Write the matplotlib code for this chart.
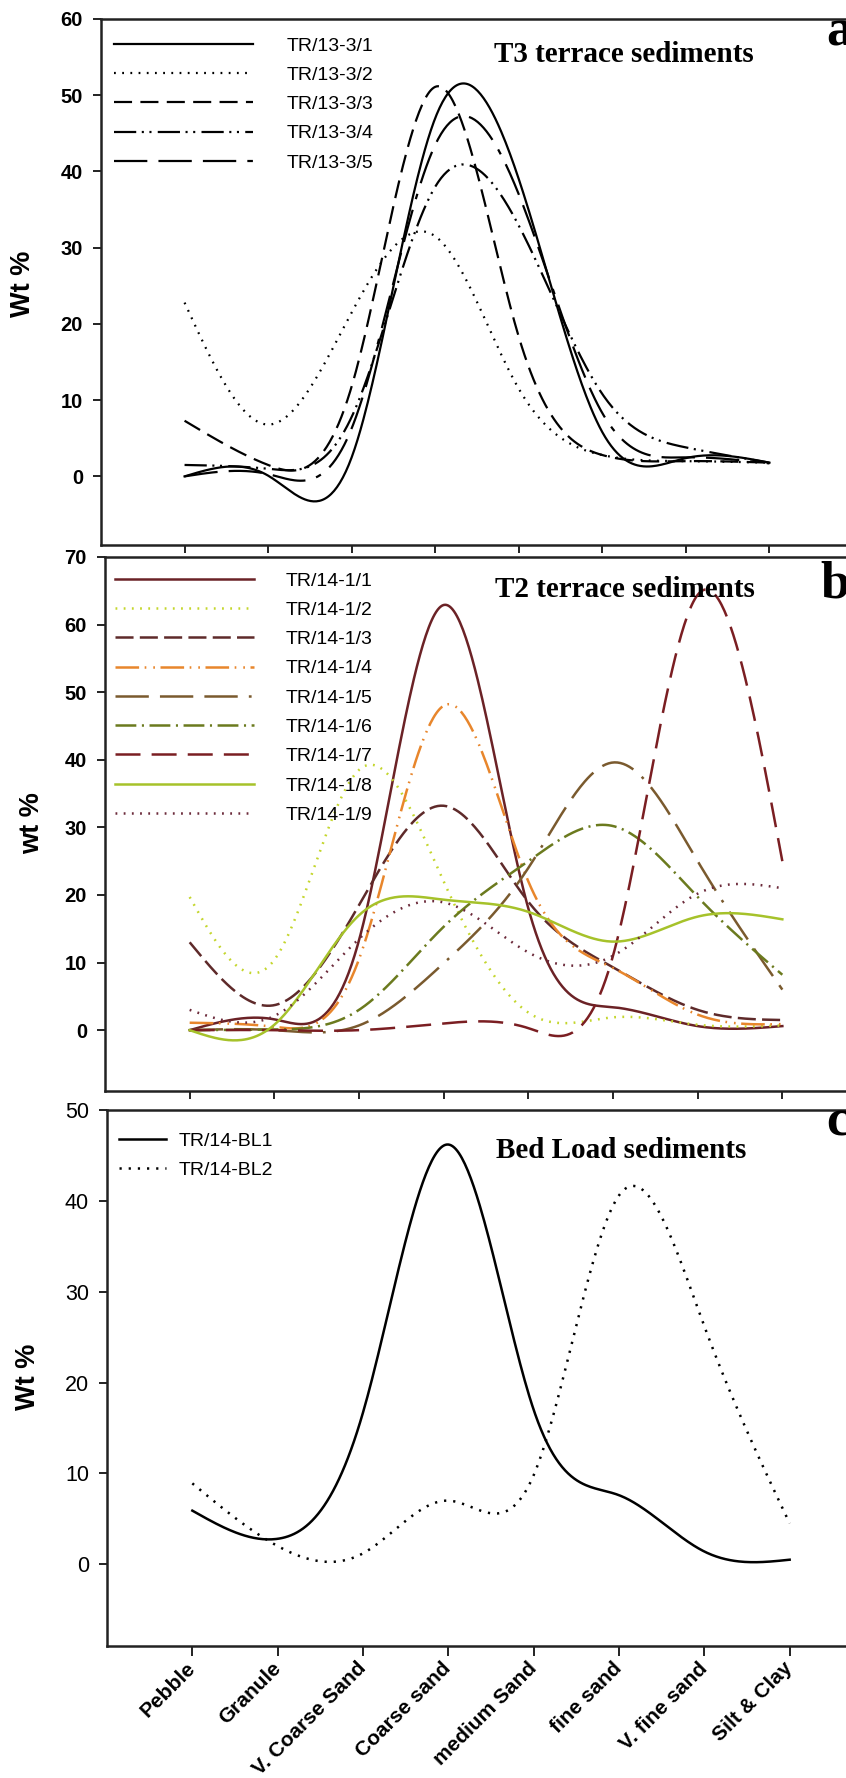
import numpy as np
import matplotlib
matplotlib.use("Agg")
import matplotlib.pyplot as plt

# grain size fractions (x axis of all three panels)
categories = ["Pebble", "Granule", "V. Coarse Sand", "Coarse sand",
              "medium Sand", "fine sand", "V. fine sand", "Silt & Clay"]

# panel a - T3 terrace sediments (wt %)
a_labels = ["TR/13-3/1", "TR/13-3/2", "TR/13-3/3", "TR/13-3/4", "TR/13-3/5"]
a_tr1 = [0, 0.1, 2.5, 47, 39, 5.8, 2.4, 1.8]
a_tr2 = [22.8, 6.8, 21.5, 31.5, 11.5, 2.8, 2.0, 1.8]
a_tr3 = [7.3, 1.5, 11.8, 51.1, 18.3, 2.8, 2.0, 1.8]
a_tr4 = [1.5, 1.0, 7.8, 38.0, 32.9, 10.8, 3.8, 1.8]
a_tr5 = [0, 0.3, 6.3, 43.5, 37.0, 8.3, 2.5, 1.7]

# panel b - T2 terrace sediments (wt %)
b_labels = ["TR/14-1/1", "TR/14-1/2", "TR/14-1/3", "TR/14-1/4", "TR/14-1/5",
            "TR/14-1/6", "TR/14-1/7", "TR/14-1/8", "TR/14-1/9"]
b_tr1 = [0, 1.6, 13.3, 62.9, 18, 3.4, 0.6, 0.6]
b_tr2 = [19.7, 10.4, 38.5, 22, 2.6, 1.9, 0.8, 0.7]
b_tr3 = [13, 3.7, 18.5, 33.2, 19, 9.3, 3.0, 1.5]
b_tr4 = [1.1, 0.5, 10.5, 48, 22, 9.2, 2.3, 0.9]
b_tr5 = [0, 0, 0.7, 9.9, 24, 39.6, 25, 6]
b_tr6 = [0, 0.1, 3.0, 15.3, 25, 30.2, 19.7, 8.2]
b_tr7 = [0, 0, 0, 1.0, 0.3, 11, 64.4, 25]
b_tr8 = [0, 0.8, 17, 19.3, 17.5, 13.1, 16.8, 16.4]
b_tr9 = [3.0, 2.1, 13.5, 18.9, 11.5, 11, 20.2, 21]

# panel c - bed load sediments (wt %)
c_labels = ["TR/14-BL1", "TR/14-BL2"]
c_bl1 = [5.9, 2.8, 16.7, 46.2, 17, 7.6, 1.4, 0.5]
c_bl2 = [8.9, 2.0, 1.2, 7.0, 9.8, 40.6, 26.2, 4.5]

plt.rcParams["font.family"] = ["Liberation Sans", "DejaVu Sans"]
plt.rcParams["lines.scale_dashes"] = False

W, H = 846, 1778
SERIF = "Liberation Serif"


def smooth(vals, n=400):
    # natural cubic spline through the points, like the smoothed curves of the original
    y = np.asarray(vals, dtype=float)
    k = len(y)
    A = np.zeros((k - 2, k - 2))
    r = np.zeros(k - 2)
    for i in range(1, k - 1):
        A[i - 1, i - 1] = 4
        if i > 1:
            A[i - 1, i - 2] = 1
        if i < k - 2:
            A[i - 1, i] = 1
        r[i - 1] = 6 * (y[i + 1] - 2 * y[i] + y[i - 1])
    M = np.zeros(k)
    M[1:-1] = np.linalg.solve(A, r)
    t = np.linspace(0, k - 1, n)
    i = np.minimum(np.floor(t).astype(int), k - 2)
    u = t - i
    v = 1 - u
    s = (M[i] * v**3 + M[i + 1] * u**3) / 6 + (y[i] - M[i] / 6) * v + (y[i + 1] - M[i + 1] / 6) * u
    return t, s


def make_axes(fig, left, right, top, bottom):
    ax = fig.add_axes([left / W, 1 - bottom / H, (right - left) / W, (bottom - top) / H])
    for sp in ax.spines.values():
        sp.set_linewidth(1.8)
        sp.set_color("#222222")
    ax.tick_params(direction="out", length=6, width=1.4, color="#222222")
    ax.set_xlim(-1, 8)
    ax.set_xticks(range(len(categories)))
    return ax


def fig_text(x, y, s, **kw):
    fig.text(x / W, 1 - y / H, s, **kw)


fig = plt.figure(figsize=(W / 100, H / 100), dpi=100)

# ---- panel a
ax1 = make_axes(fig, 101, 853, 19, 545)
styles_a = ["-", (0, (1.3, 4.6)), (0, (13, 6)),
            (0, (16, 4, 1.5, 4, 1.5, 4.5)), (0, (24, 8, 24, 8, 24, 8, 4, 8))]
for vals, lab, ls in zip([a_tr1, a_tr2, a_tr3, a_tr4, a_tr5], a_labels, styles_a):
    x, y = smooth(vals)
    ax1.plot(x, y, color="black", lw=1.6, ls=ls, label=lab)
ax1.set_ylim(-9, 60)
ax1.set_yticks(range(0, 61, 10))
ax1.tick_params(labelbottom=False)
for t in ax1.get_yticklabels():
    t.set_fontweight("bold")
    t.set_fontsize(14.5)
ax1.tick_params(axis="y", pad=7)
ax1.legend(loc="upper left", bbox_to_anchor=(114 / W, 1 - 37 / H), bbox_transform=fig.transFigure,
           frameon=False, fontsize=14, handlelength=7.15, handletextpad=1.75, labelspacing=0.6,
           borderpad=0, borderaxespad=0)

# ---- panel b
ax2 = make_axes(fig, 105, 867, 557, 1091)
colors_b = ["#6b2226", "#c4d62c", "#5e2a2a", "#e8862c", "#7a5a2e",
            "#6b7a1e", "#7a1e22", "#a6c22a", "#6b2a3a"]
styles_b = ["-", (0, (1.3, 4.6)), (0, (13, 4.5)), (0, (17, 4, 1.2, 5, 1.2, 4)),
            (0, (24, 8, 24, 8, 24, 8, 2, 8)), (0, (15, 4, 1.5, 4)), (0, (18, 8)),
            "-", (0, (1.3, 4.6))]
b_data = [b_tr1, b_tr2, b_tr3, b_tr4, b_tr5, b_tr6, b_tr7, b_tr8, b_tr9]
for vals, lab, col, ls in zip(b_data, b_labels, colors_b, styles_b):
    x, y = smooth(vals)
    ax2.plot(x, y, color=col, lw=1.8, ls=ls, label=lab)
ax2.set_ylim(-9, 70)
ax2.set_yticks(range(0, 71, 10))
ax2.tick_params(labelbottom=False)
for t in ax2.get_yticklabels():
    t.set_fontweight("bold")
    t.set_fontsize(14.5)
ax2.tick_params(axis="y", pad=7)
ax2.legend(loc="upper left", bbox_to_anchor=(115 / W, 1 - 572 / H), bbox_transform=fig.transFigure,
           frameon=False, fontsize=14, handlelength=7.15, handletextpad=1.65, labelspacing=0.6,
           borderpad=0, borderaxespad=0)

# ---- panel c
ax3 = make_axes(fig, 107, 875, 1110, 1646)
for vals, lab, ls in zip([c_bl1, c_bl2], c_labels, ["-", (0, (1.6, 5))]):
    x, y = smooth(vals)
    ax3.plot(x, y, color="black", lw=1.8, ls=ls, label=lab)
ax3.set_ylim(-9, 50)
ax3.set_yticks(range(0, 51, 10))
ax3.tick_params(axis="y", labelsize=15.5, pad=7)
ax3.tick_params(axis="x", length=7)
ax3.set_xticklabels(categories, rotation=45, ha="right", va="center",
                    rotation_mode="anchor", fontweight="bold", fontsize=15)
ax3.tick_params(axis="x", pad=7)
ax3.legend(loc="upper left", bbox_to_anchor=(119 / W, 1 - 1132 / H), bbox_transform=fig.transFigure,
           frameon=False, fontsize=14, handlelength=2.4, handletextpad=0.65, labelspacing=0.6,
           borderpad=0, borderaxespad=0)

# y axis titles
fig_text(23, 284, "Wt %", rotation=90, ha="center", va="center", fontweight="bold", fontsize=19.5)
fig_text(32, 823, "wt %", rotation=90, ha="center", va="center", fontweight="bold", fontsize=19.5)
fig_text(28, 1377, "Wt %", rotation=90, ha="center", va="center", fontweight="bold", fontsize=19.5)

# panel titles
fig_text(494, 62.5, "T3 terrace sediments", family=SERIF, fontweight="bold", fontsize=21, va="baseline")
fig_text(495, 597, "T2 terrace sediments", family=SERIF, fontweight="bold", fontsize=21, va="baseline")
fig_text(496, 1158, "Bed Load sediments", family=SERIF, fontweight="bold", fontsize=21, va="baseline")

# panel letters, cut by the right edge as in the original
fig_text(826, 46, "a", family=SERIF, fontweight="bold", fontsize=38, va="baseline")
fig_text(820, 597, "b", family=SERIF, fontweight="bold", fontsize=38, va="baseline")
fig_text(826, 1136, "c", family=SERIF, fontweight="bold", fontsize=38, va="baseline")

fig.savefig("out.png", dpi=100)
